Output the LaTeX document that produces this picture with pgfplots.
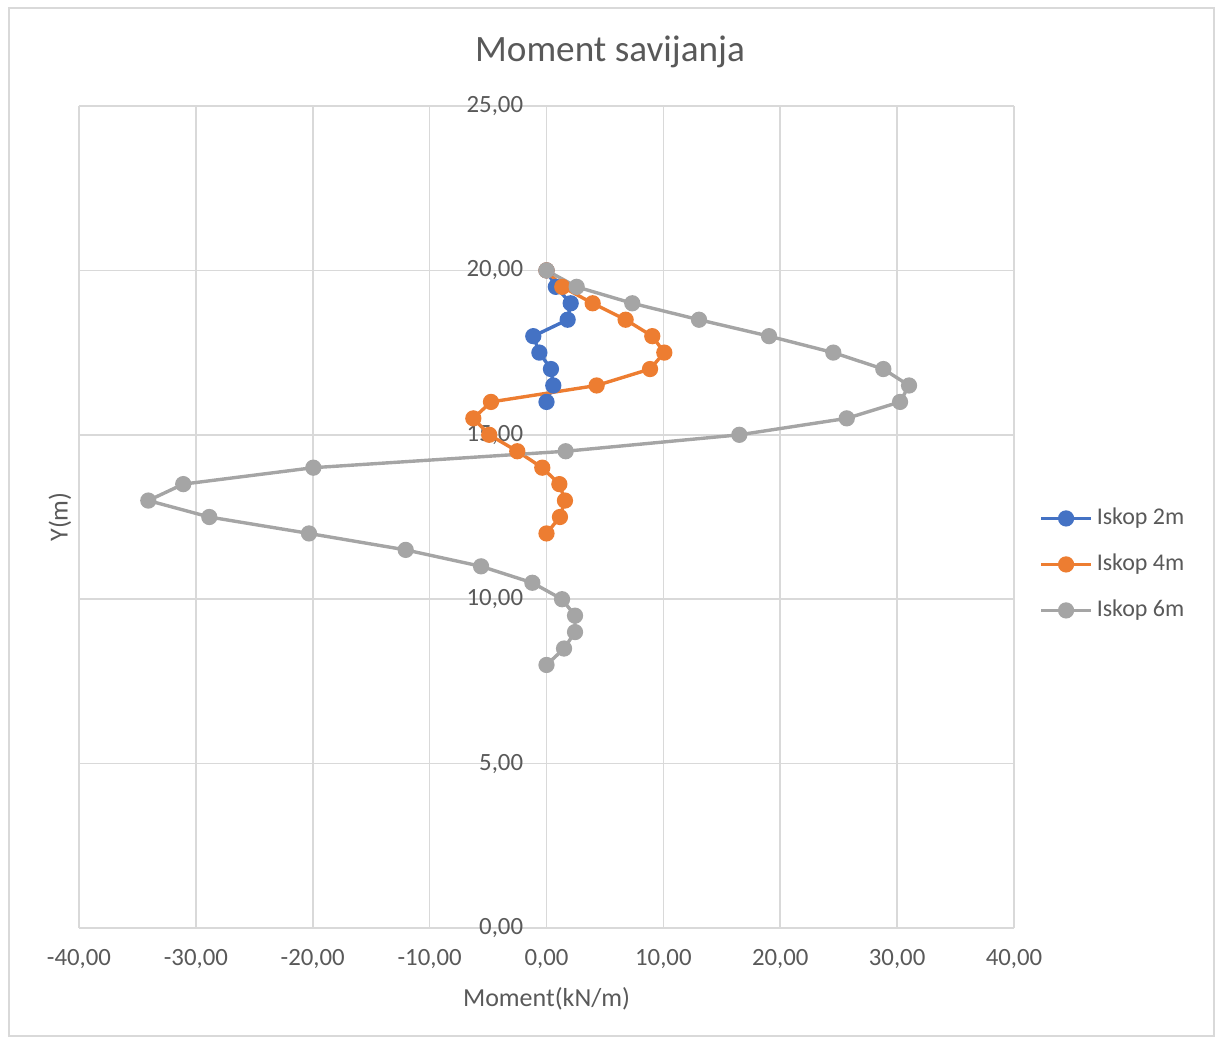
\documentclass[border=0pt]{standalone}
\usepackage{pgfplots}
\pgfplotsset{compat=1.18}
\usepackage{pgfplotstable}
\usepackage{fontspec}
\setmainfont{Carlito}
\definecolor{cblue}{HTML}{4472C4}
\definecolor{corange}{HTML}{ED7D31}
\definecolor{cgray}{HTML}{A5A5A5}
\definecolor{ctext}{HTML}{595959}
\definecolor{cgrid}{HTML}{D9D9D9}
\definecolor{caxis}{HTML}{BFBFBF}
\definecolor{cborder}{HTML}{D9D9D9}

\pgfplotstableread{
m y
0.00 20.0
0.80 19.5
2.07 19.0
1.81 18.5
-1.13 18.0
-0.61 17.5
0.38 17.0
0.58 16.5
0.00 16.0
}\isktwo

\pgfplotstableread{
m y
0.00 20.0
1.35 19.5
3.95 19.0
6.77 18.5
9.05 18.0
10.08 17.5
8.86 17.0
4.29 16.5
-4.75 16.0
-6.26 15.5
-4.90 15.0
-2.50 14.5
-0.36 14.0
1.10 13.5
1.58 13.0
1.15 12.5
0.00 12.0
}\iskfour

\pgfplotstableread{
m y
0.00 20.0
2.58 19.5
7.34 19.0
13.05 18.5
19.04 18.0
24.54 17.5
28.82 17.0
31.02 16.5
30.25 16.0
25.69 15.5
16.50 15.0
1.64 14.5
-19.95 14.0
-31.08 13.5
-34.07 13.0
-28.85 12.5
-20.32 12.0
-12.05 11.5
-5.60 11.0
-1.21 10.5
1.33 10.0
2.44 9.5
2.44 9.0
1.50 8.5
0.00 8.0
}\isksix

\begin{document}
\begin{tikzpicture}
\useasboundingbox (0,0) rectangle (609.5pt,520.5pt);
\draw[cborder, line width=0.6pt] (4.5pt,2.5pt) rectangle (607pt,516.5pt);
\begin{axis}[
  at={(39.5pt,56.5pt)}, anchor=south west,
  scale only axis, width=467.5pt, height=411pt,
  xmin=-40, xmax=40, ymin=0, ymax=25,
  xtick={-40,-30,-20,-10,0,10,20,30,40},
  ytick={0,5,10,15,20,25},
  xticklabels={{-40,00},{-30,00},{-20,00},{-10,00},{0,00},{10,00},{20,00},{30,00},{40,00}},
  yticklabels={{0,00},{5,00},{10,00},{15,00},{20,00},{25,00}},
  axis line style={draw=none},
  major tick length=0pt,
  grid=major,
  major grid style={cgrid, line width=0.8pt},
  extra x ticks={0},
  extra x tick labels={},
  extra x tick style={grid style={caxis, line width=0.8pt}},
  tick label style={font=\fontsize{12.4}{14}\selectfont, text=ctext},
  xticklabel style={anchor=center, yshift=-15.5pt},
  yticklabel style={anchor=east, inner sep=0pt, xshift=222.25pt},
  legend entries={Iskop 2m, Iskop 4m, Iskop 6m},
  legend cell align=left,
  legend image code/.code={\draw[mark repeat=2,mark phase=2,#1] plot coordinates {(0pt,0pt)(12.5pt,0pt)(25pt,0pt)};},
  legend style={at={(1.0203,0.4423)}, anchor=west, draw=none, fill=none,
    font=\fontsize{12}{14}\selectfont, text=ctext, row sep=7pt,
    nodes={inner sep=2pt, text height=9pt, text depth=3pt}},
]
\addplot[cblue, line width=1.7pt, mark=*, mark size=3.2pt, mark options={solid, fill=cblue, draw=cblue}] table[x=m,y=y] {\isktwo};
\addplot[corange, line width=1.7pt, mark=*, mark size=3.2pt, mark options={solid, fill=corange, draw=corange}] table[x=m,y=y] {\iskfour};
\addplot[cgray, line width=1.7pt, mark=*, mark size=3.2pt, mark options={solid, fill=cgray, draw=cgray}] table[x=m,y=y] {\isksix};
\end{axis}
\node[text=ctext, font=\fontsize{18.6}{22}\selectfont] at (305pt,494.5pt) {Moment savijanja};
\node[text=ctext, font=\fontsize{13}{15}\selectfont] at (273.25pt,21pt) {Moment(kN/m)};
\node[text=ctext, font=\fontsize{13}{15}\selectfont, rotate=90] at (30pt,262pt) {Y(m)};
\end{tikzpicture}
\end{document}
